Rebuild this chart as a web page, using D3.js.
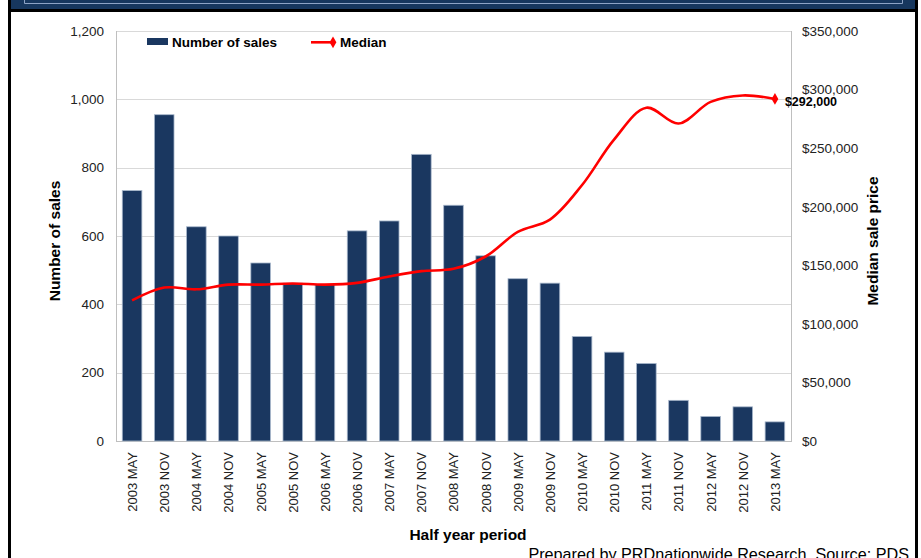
<!DOCTYPE html>
<html>
<head>
<meta charset="utf-8">
<script src="https://cdn.jsdelivr.net/npm/d3@7"></script>
<style>
  html, body { margin: 0; padding: 0; background: #fff; }
  svg { display: block; font-family: "Liberation Sans", Arial, sans-serif; }
</style>
</head>
<body>
<svg id="chart" width="921" height="558"></svg>
<script>
const categories = ["2003 MAY","2003 NOV","2004 MAY","2004 NOV","2005 MAY","2005 NOV","2006 MAY","2006 NOV","2007 MAY","2007 NOV","2008 MAY","2008 NOV","2009 MAY","2009 NOV","2010 MAY","2010 NOV","2011 MAY","2011 NOV","2012 MAY","2012 NOV","2013 MAY"];
const salesCount = [733, 955, 627, 600, 521, 462, 458, 615, 644, 839, 690, 542, 475, 462, 306, 260, 227, 119, 72, 100, 56];
const medianPrice = [120000, 131000, 129500, 133500, 133500, 134500, 133500, 135000, 140500, 145000, 147000, 157500, 178500, 189000, 218500, 257500, 284500, 271000, 289500, 295000, 292000];
const leftTicks = [0, 200, 400, 600, 800, 1000, 1200];
const rightTicks = [0, 50000, 100000, 150000, 200000, 250000, 300000, 350000];
const lastLabel = "$292,000";

const svg = d3.select("#chart");
const navy = "#17375e";

// frame / header
svg.append("rect").attr("x", 11).attr("y", 0).attr("width", 904).attr("height", 9).attr("fill", navy);
svg.append("path").attr("d", "M24.5,0 V3.5 H902.5 V0").attr("fill", "none").attr("stroke", "#8ea4c6").attr("stroke-width", 1);
svg.append("rect").attr("x", 8).attr("y", 9).attr("width", 910).attr("height", 3).attr("fill", "#000");
svg.append("rect").attr("x", 8).attr("y", 0).attr("width", 3).attr("height", 558).attr("fill", "#000");
svg.append("rect").attr("x", 915).attr("y", 0).attr("width", 3).attr("height", 558).attr("fill", "#000");

const L = 116, R = 791, T = 31, B = 441;
const x = d3.scaleBand().domain(categories).range([L, R]).paddingInner(0.39).paddingOuter(0.195);
const yL = d3.scaleLinear().domain([0, 1200]).range([B, T]);
const yR = d3.scaleLinear().domain([0, 350000]).range([B, T]);

// gridlines
svg.append("g").selectAll("line").data(leftTicks).join("line")
  .attr("x1", L).attr("x2", R)
  .attr("y1", d => Math.round(yL(d)) + 0.5).attr("y2", d => Math.round(yL(d)) + 0.5)
  .attr("stroke", "#d9d9d9").attr("stroke-width", 1);

// plot box sides
svg.append("line").attr("x1", L + 0.5).attr("x2", L + 0.5).attr("y1", T).attr("y2", B + 1).attr("stroke", "#bfbfbf");
svg.append("line").attr("x1", R + 0.5).attr("x2", R + 0.5).attr("y1", T).attr("y2", B + 1).attr("stroke", "#bfbfbf");
svg.append("line").attr("x1", L).attr("x2", R + 1).attr("y1", B + 0.5).attr("y2", B + 0.5).attr("stroke", "#bfbfbf");

// bars
svg.append("g").selectAll("rect").data(categories).join("rect")
  .attr("x", d => x(d))
  .attr("y", (d, i) => yL(salesCount[i]))
  .attr("width", x.bandwidth())
  .attr("height", (d, i) => B - yL(salesCount[i]))
  .attr("fill", "#1a3760")
  .attr("stroke", "#a9b8cc").attr("stroke-width", 0.8);

// median line
const line = d3.line()
  .x((d, i) => x(categories[i]) + x.bandwidth() / 2)
  .y(d => yR(d))
  .curve(d3.curveCatmullRom.alpha(0.5));
svg.append("path").datum(medianPrice).attr("d", line)
  .attr("fill", "none").attr("stroke", "#ff0000").attr("stroke-width", 2.6);

const lastI = medianPrice.length - 1;
const lx = x(categories[lastI]) + x.bandwidth() / 2, ly = yR(medianPrice[lastI]);
svg.append("path").attr("d", d3.symbol(d3.symbolDiamond, 40)())
  .attr("transform", `translate(${lx},${ly})`).attr("fill", "#ff0000");
svg.append("text").attr("x", lx + 10).attr("y", ly + 7.5)
  .attr("font-size", 12.5).attr("font-weight", "bold").attr("fill", "#000").text(lastLabel);

// left axis
const yAxisL = d3.axisLeft(yL).tickValues(leftTicks).tickSize(0).tickPadding(0).tickFormat(d3.format(","));
const gL = svg.append("g").attr("transform", `translate(104,0)`).call(yAxisL);
gL.select(".domain").remove();
gL.selectAll("text").attr("font-size", 13.5).attr("fill", "#222").attr("font-family", "Liberation Sans, Arial, sans-serif");

// right axis
const yAxisR = d3.axisRight(yR).tickValues(rightTicks).tickSize(0).tickPadding(0).tickFormat(d => "$" + d3.format(",")(d));
const gR = svg.append("g").attr("transform", `translate(802,0)`).call(yAxisR);
gR.select(".domain").remove();
gR.selectAll("text").attr("font-size", 13.5).attr("fill", "#222").attr("font-family", "Liberation Sans, Arial, sans-serif");

// x axis labels
const xAxis = d3.axisBottom(x).tickSize(0).tickPadding(0);
const gX = svg.append("g").attr("transform", `translate(0,${B})`).call(xAxis);
gX.select(".domain").remove();
gX.selectAll("text")
  .attr("font-size", 13).attr("fill", "#222").attr("font-family", "Liberation Sans, Arial, sans-serif")
  .attr("text-anchor", "end")
  .attr("transform", "rotate(-90)")
  .attr("x", -11).attr("y", 0).attr("dy", "0.38em");

// axis titles
svg.append("text").attr("transform", "translate(60,241) rotate(-90)")
  .attr("text-anchor", "middle").attr("font-size", 15.5).attr("font-weight", "bold").attr("fill", "#000")
  .text("Number of sales");
svg.append("text").attr("transform", "translate(878,241) rotate(-90)")
  .attr("text-anchor", "middle").attr("font-size", 15.5).attr("font-weight", "bold").attr("fill", "#000")
  .text("Median sale price");
svg.append("text").attr("x", 468).attr("y", 540)
  .attr("text-anchor", "middle").attr("font-size", 15.5).attr("font-weight", "bold").attr("fill", "#000")
  .text("Half year period");

// footer
svg.append("text").attr("x", 909).attr("y", 560)
  .attr("text-anchor", "end").attr("font-size", 16.2).attr("fill", "#000")
  .text("Prepared by PRDnationwide Research. Source: PDS");

// legend
svg.append("rect").attr("x", 147).attr("y", 38).attr("width", 21).attr("height", 7).attr("fill", "#1a3760");
svg.append("text").attr("x", 172).attr("y", 47).attr("font-size", 13.5).attr("font-weight", "bold").attr("fill", "#000").text("Number of sales");
svg.append("line").attr("x1", 311).attr("x2", 335).attr("y1", 42.3).attr("y2", 42.3).attr("stroke", "#ff0000").attr("stroke-width", 2.6);
svg.append("path").attr("d", d3.symbol(d3.symbolDiamond, 40)()).attr("transform", "translate(333,42.3)").attr("fill", "#ff0000");
svg.append("text").attr("x", 340).attr("y", 47).attr("font-size", 13.5).attr("font-weight", "bold").attr("fill", "#000").text("Median");
</script>
</body>
</html>
